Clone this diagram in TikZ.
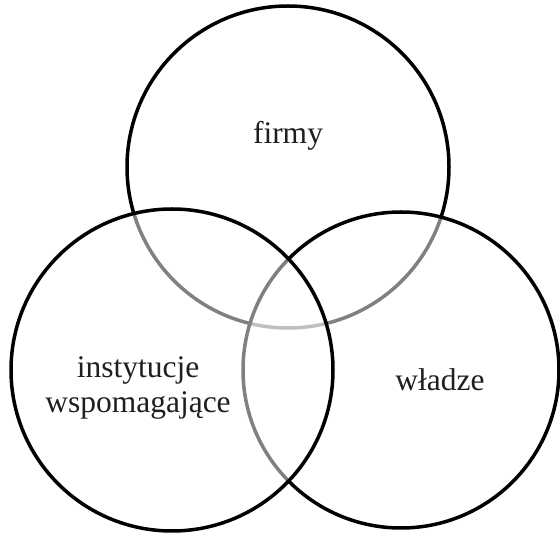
\documentclass[tikz,border=0pt]{standalone}
\usepackage{fontspec}
\setmainfont{Liberation Serif}
\begin{document}
\begin{tikzpicture}[x=1pt,y=-1pt,
  ring/.style={draw=black,line width=3.5pt,circle,inner sep=0pt,outer sep=0pt},
  veil/.style={fill=white,fill opacity=0.5},
  lbl/.style={font=\fontsize{31.5}{35}\selectfont,text=black!88,align=center,inner sep=0pt}]
\useasboundingbox (0,0) rectangle (560,534);
\node[ring,minimum size=322pt] (top) at (288,167) {};
\node[ring,veil,minimum size=316pt] (right) at (401,370) {};
\node[ring,veil,minimum size=322pt] (left) at (172,370) {};
\node[lbl,anchor=base] (tf) at (288,144) {firmy};
\node[lbl,anchor=base] (tw) at (440,391) {władze};
\node[lbl,anchor=center] (ti) at (138,388) {instytucje\\wspomagające};
\end{tikzpicture}
\end{document}
